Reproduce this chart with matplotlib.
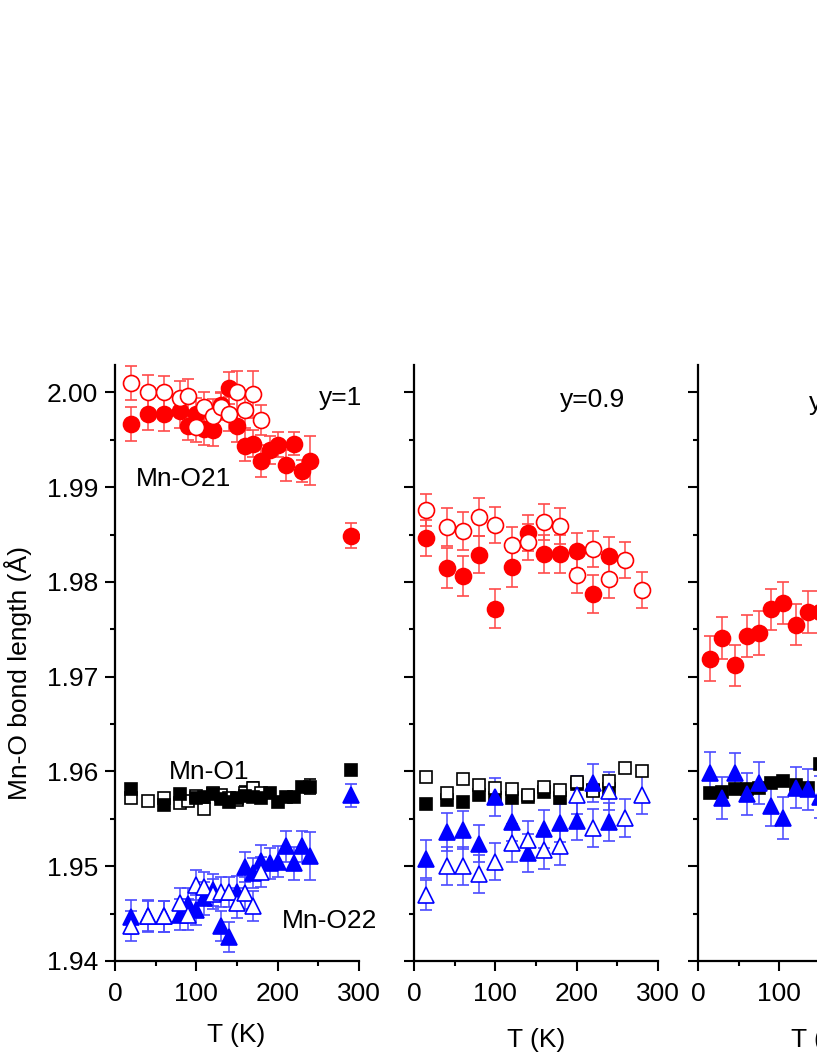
import numpy as np
import matplotlib
matplotlib.use("Agg")
import matplotlib.pyplot as plt
from matplotlib.ticker import MultipleLocator

plt.rcParams['font.family'] = ['Liberation Sans', 'DejaVu Sans']

# ---------------- data ----------------
# panel y=1
t1_o21f = [20, 40, 60, 80, 90, 100, 110, 120, 130, 140, 150, 160, 170, 180, 190, 200, 210, 220, 230, 240, 290]
v1_o21f = [1.9967, 1.9977, 1.9977, 1.9980, 1.9965, 1.9977, 1.9961, 1.9960, 1.9987, 2.0005, 1.9965,
           1.9944, 1.9946, 1.9928, 1.9939, 1.9945, 1.9923, 1.9946, 1.9917, 1.9928, 1.9849]
e1_o21f = [0.0018, 0.0017, 0.0018, 0.0017, 0.0015, 0.0017, 0.0016, 0.0016, 0.0014, 0.0017, 0.0017,
           0.0016, 0.0014, 0.0017, 0.0015, 0.0013, 0.0016, 0.0012, 0.0012, 0.0026, 0.0013]
t1_o21o = [20, 40, 60, 80, 90, 100, 110, 120, 130, 140, 150, 160, 170, 180]
v1_o21o = [2.0010, 2.0000, 2.0000, 1.9994, 1.9996, 1.9964, 1.9985, 1.9975, 1.9985, 1.9977, 2.0001,
           1.9981, 1.9998, 1.9971]
e1_o21o = [0.0018, 0.0018, 0.0017, 0.0018, 0.0018, 0.0016, 0.0016, 0.0018, 0.0014, 0.0018, 0.0022,
           0.0018, 0.0025, 0.0016]

t1_o1f = [20, 60, 80, 100, 110, 120, 130, 140, 150, 160, 170, 180, 190, 200, 210, 220, 230, 240, 290]
v1_o1f = [1.9581, 1.9565, 1.9576, 1.9572, 1.9573, 1.9576, 1.9571, 1.9568, 1.9572, 1.9574, 1.9573,
          1.9572, 1.9577, 1.9568, 1.9573, 1.9573, 1.9584, 1.9584, 1.9602]
e1_o1f = [0.0004, 0.0004, 0.0004, 0.0004, 0.0004, 0.0004, 0.0004, 0.0004, 0.0004, 0.0004, 0.0004,
          0.0004, 0.0004, 0.0004, 0.0004, 0.0004, 0.0005, 0.0008, 0.0004]
t1_o1o = [20, 40, 60, 80, 90, 100, 110, 120, 130, 140, 150, 160, 170, 180]
v1_o1o = [1.9572, 1.9569, 1.9572, 1.9567, 1.9569, 1.9574, 1.9560, 1.9577, 1.9575, 1.9572, 1.9570,
          1.9577, 1.9583, 1.9577]
e1_o1o = [0.0004, 0.0004, 0.0004, 0.0004, 0.0004, 0.0004, 0.0004, 0.0004, 0.0004, 0.0004, 0.0004,
          0.0008, 0.0006, 0.0004]

t1_o22f = [20, 40, 60, 80, 90, 100, 110, 120, 130, 140, 150, 160, 170, 180, 190, 200, 210, 220, 230, 240, 290]
v1_o22f = [1.9446, 1.9448, 1.9447, 1.9449, 1.9460, 1.9454, 1.9466, 1.9475, 1.9437, 1.9425, 1.9473,
           1.9499, 1.9493, 1.9506, 1.9503, 1.9505, 1.9521, 1.9503, 1.9521, 1.9511, 1.9575]
e1_o22f = [0.0018, 0.0016, 0.0016, 0.0016, 0.0017, 0.0016, 0.0017, 0.0017, 0.0016, 0.0016, 0.0017,
           0.0016, 0.0016, 0.0016, 0.0016, 0.0016, 0.0016, 0.0017, 0.0016, 0.0025, 0.0012]
t1_o22o = [20, 40, 60, 80, 90, 100, 110, 120, 130, 140, 150, 160, 170, 180]
v1_o22o = [1.9437, 1.9447, 1.9447, 1.9461, 1.9449, 1.9480, 1.9478, 1.9471, 1.9473, 1.9473, 1.9461,
           1.9472, 1.9458, 1.9494]
e1_o22o = [0.0016, 0.0016, 0.0016, 0.0016, 0.0016, 0.0016, 0.0016, 0.0016, 0.0016, 0.0016, 0.0016,
           0.0017, 0.0016, 0.0016]

# panel y=0.9
t2_f = [15, 40, 60, 80, 100, 120, 140, 160, 180, 200, 220, 240]
t2_o = [15, 40, 60, 80, 100, 120, 140, 160, 180, 200, 220, 240, 260, 280]
v2_o21f = [1.9846, 1.9815, 1.9806, 1.9829, 1.9772, 1.9816, 1.9852, 1.9830, 1.9830, 1.9833, 1.9787, 1.9827]
e2_o21f = [0.0019, 0.0021, 0.0021, 0.0020, 0.0021, 0.0021, 0.0019, 0.0020, 0.0020, 0.0019, 0.0020, 0.0021]
v2_o21o = [1.9876, 1.9858, 1.9854, 1.9869, 1.9860, 1.9839, 1.9842, 1.9863, 1.9859, 1.9807, 1.9835,
           1.9803, 1.9823, 1.9792]
e2_o21o = [0.0017, 0.0020, 0.0020, 0.0020, 0.0019, 0.0019, 0.0019, 0.0019, 0.0019, 0.0019, 0.0019,
           0.0020, 0.0019, 0.0019]
v2_o1f = [1.9566, 1.9570, 1.9568, 1.9575, 1.9572, 1.9572, 1.9573, 1.9578, 1.9572, 1.9587, 1.9580, 1.9582]
e2_o1f = [0.0004, 0.0005, 0.0005, 0.0005, 0.0005, 0.0005, 0.0004, 0.0005, 0.0005, 0.0005, 0.0005, 0.0005]
v2_o1o = [1.9594, 1.9577, 1.9592, 1.9586, 1.9583, 1.9581, 1.9575, 1.9584, 1.9580, 1.9589, 1.9579,
          1.9590, 1.9604, 1.9601]
e2_o1o = [0.0004, 0.0005, 0.0005, 0.0005, 0.0005, 0.0005, 0.0004, 0.0005, 0.0005, 0.0005, 0.0005,
          0.0005, 0.0004, 0.0005]
v2_o22f = [1.9508, 1.9536, 1.9538, 1.9524, 1.9573, 1.9547, 1.9514, 1.9539, 1.9546, 1.9548, 1.9588, 1.9547]
e2_o22f = [0.0020, 0.0020, 0.0020, 0.0020, 0.0020, 0.0020, 0.0020, 0.0020, 0.0020, 0.0020, 0.0020, 0.0020]
v2_o22o = [1.9470, 1.9500, 1.9500, 1.9492, 1.9505, 1.9525, 1.9528, 1.9517, 1.9521, 1.9575, 1.9540,
           1.9579, 1.9551, 1.9575]
e2_o22o = [0.0016, 0.0020, 0.0020, 0.0020, 0.0020, 0.0020, 0.0020, 0.0020, 0.0020, 0.0020, 0.0020,
           0.0020, 0.0020, 0.0020]

# panel y=0.8 (only the left part is visible)
t3 = [15, 30, 45, 60, 75, 90, 105, 120, 135, 150]
v3_o21 = [1.9719, 1.9741, 1.9712, 1.9743, 1.9746, 1.9771, 1.9778, 1.9755, 1.9768, 1.9768]
e3_o21 = [0.0024, 0.0022, 0.0022, 0.0022, 0.0023, 0.0022, 0.0022, 0.0022, 0.0022, 0.0022]
v3_o1 = [1.9577, 1.9578, 1.9582, 1.9581, 1.9583, 1.9588, 1.9590, 1.9586, 1.9583, 1.9608]
e3_o1 = [0.0005, 0.0005, 0.0005, 0.0005, 0.0005, 0.0005, 0.0005, 0.0005, 0.0005, 0.0005]
v3_o22 = [1.9598, 1.9572, 1.9598, 1.9576, 1.9588, 1.9564, 1.9551, 1.9583, 1.9581, 1.9573]
e3_o22 = [0.0023, 0.0022, 0.0022, 0.0022, 0.0022, 0.0022, 0.0022, 0.0022, 0.0022, 0.0022]

RED, BLUE, BLACK = '#ff0000', '#0000ff', '#000000'
ERED, EBLUE = '#ff4a4a', '#4a4aff'

W, H = 817, 1058
fig = plt.figure(figsize=(W / 100, H / 100), dpi=100)


def px_axes(left, bottom=961, top=365, width=244):
    # axes placed in pixel units; the third one runs past the right edge like the original
    return fig.add_axes([left / W, 1 - bottom / H, width / W, (bottom - top) / H])


def series(ax, t, v, e, color, ecolor, marker, ms, filled):
    ax.errorbar(t, v, yerr=e, fmt=marker, ms=ms, color=color,
                mfc=color if filled else 'white', mec=color, mew=1.2,
                ecolor=ecolor, elinewidth=1.1, capsize=4, capthick=1.1, zorder=3)


def style(ax, ylabels):
    ax.set_xlim(0, 300)
    ax.set_ylim(1.94, 2.0029)
    for s in ['top', 'right']:
        ax.spines[s].set_visible(False)
    for s in ['left', 'bottom']:
        ax.spines[s].set_linewidth(1.6)
    ax.xaxis.set_major_locator(MultipleLocator(100))
    ax.xaxis.set_minor_locator(MultipleLocator(50))
    ax.yaxis.set_major_locator(MultipleLocator(0.01))
    ax.yaxis.set_minor_locator(MultipleLocator(0.005))
    ax.tick_params(which='major', direction='out', length=7, width=1.5, labelsize=19)
    ax.tick_params(which='minor', direction='out', length=3.5, width=1.5)
    ax.tick_params(axis='x', pad=8)
    ax.tick_params(axis='y', pad=5)
    if ylabels:
        ax.yaxis.set_major_formatter(plt.FormatStrFormatter('%.2f'))
    else:
        ax.set_yticklabels([])


ax1 = px_axes(115)
ax2 = px_axes(414)
ax3 = px_axes(698)

# panel 1
series(ax1, t1_o1o, v1_o1o, e1_o1o, BLACK, BLACK, 's', 8.5, False)
series(ax1, t1_o1f, v1_o1f, e1_o1f, BLACK, BLACK, 's', 8.5, True)
series(ax1, t1_o22f, v1_o22f, e1_o22f, BLUE, EBLUE, '^', 12, True)
series(ax1, t1_o22o, v1_o22o, e1_o22o, BLUE, EBLUE, '^', 12, False)
series(ax1, t1_o21f, v1_o21f, e1_o21f, RED, ERED, 'o', 11.5, True)
series(ax1, t1_o21o, v1_o21o, e1_o21o, RED, ERED, 'o', 11.5, False)
style(ax1, True)

# panel 2
series(ax2, t2_f, v2_o1f, e2_o1f, BLACK, BLACK, 's', 8.5, True)
series(ax2, t2_o, v2_o1o, e2_o1o, BLACK, BLACK, 's', 8.5, False)
series(ax2, t2_f, v2_o22f, e2_o22f, BLUE, EBLUE, '^', 12, True)
series(ax2, t2_o, v2_o22o, e2_o22o, BLUE, EBLUE, '^', 12, False)
series(ax2, t2_f, v2_o21f, e2_o21f, RED, ERED, 'o', 11.5, True)
series(ax2, t2_o, v2_o21o, e2_o21o, RED, ERED, 'o', 11.5, False)
style(ax2, False)

# panel 3
series(ax3, t3, v3_o1, e3_o1, BLACK, BLACK, 's', 8.5, True)
series(ax3, t3, v3_o22, e3_o22, BLUE, EBLUE, '^', 12, True)
series(ax3, t3, v3_o21, e3_o21, RED, ERED, 'o', 11.5, True)
style(ax3, False)


def ftext(x, y, s, **kw):
    fig.text(x / W, 1 - y / H, s, fontsize=19, **kw)


ftext(18, 673, 'Mn-O bond length (Å)', rotation=90, ha='center', va='center')
ftext(236, 1035, 'T (K)', ha='center', va='center')
ftext(536, 1040, 'T (K)', ha='center', va='center')
ftext(820, 1040, 'T (K)', ha='center', va='center')

ftext(341, 398, 'y=1', ha='center', va='center')
ftext(184, 479, 'Mn-O21', ha='center', va='center')
ftext(209, 772, 'Mn-O1', ha='center', va='center')
ftext(330, 921, 'Mn-O22', ha='center', va='center')
ftext(593, 400, 'y=0.9', ha='center', va='center')
ftext(809, 403, 'y=0.8', ha='left', va='center')

fig.savefig('out.png', dpi=100)
